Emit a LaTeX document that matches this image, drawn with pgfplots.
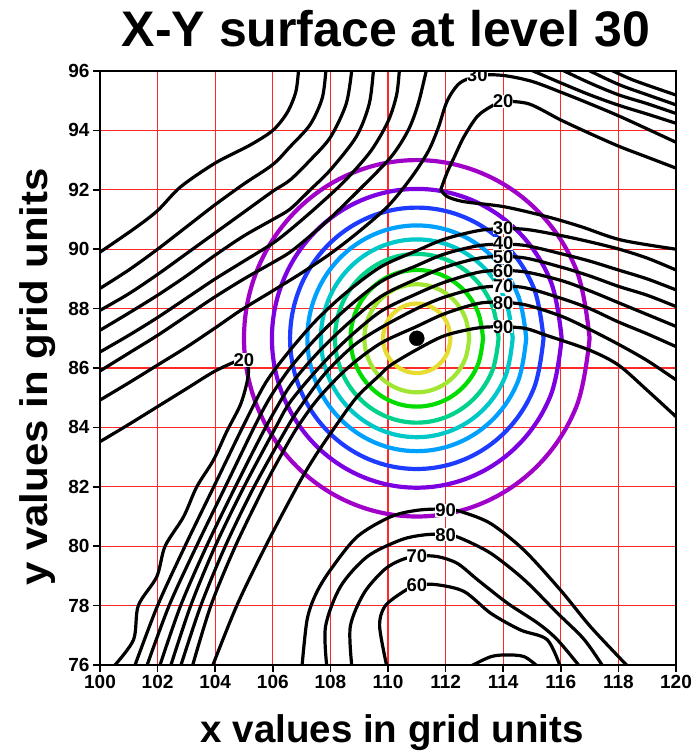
\documentclass[border=0pt]{standalone}
\usepackage{fontspec}
\setmainfont{Liberation Sans}
\usepackage{graphicx}
\usepackage{pgfplots}
\pgfplotsset{compat=1.18}
\definecolor{r1}{RGB}{160,0,200}
\definecolor{r2}{RGB}{125,0,225}
\definecolor{r3}{RGB}{30,60,255}
\definecolor{r4}{RGB}{0,160,255}
\definecolor{r5}{RGB}{0,200,200}
\definecolor{r6}{RGB}{0,210,140}
\definecolor{r7}{RGB}{0,220,0}
\definecolor{r8}{RGB}{160,230,50}
\definecolor{r9}{RGB}{230,220,50}
\definecolor{gridred}{RGB}{255,40,40}
\tikzset{lab/.style={fill=white, inner sep=0pt, font=\fontsize{18.5}{18.5}\selectfont\bfseries}}
\begin{document}
\begin{tikzpicture}
\useasboundingbox (0,0) rectangle (695pt,756pt);
\begin{axis}[
  at={(100pt,91pt)}, anchor=south west,
  scale only axis, width=576pt, height=594pt,
  xmin=100, xmax=120, ymin=76, ymax=96,
  xtick={100,102,...,120}, ytick={76,78,...,96},
  xmajorgrids, ymajorgrids,
  grid style={color=gridred, line width=1.25pt},
  major grid style={color=gridred, line width=1.25pt},
  axis line style={line width=1.8pt},
  tick style={black, line width=1.5pt},
  tick align=outside, major tick length=7pt,
  tick pos=left,
  ticklabel style={font=\fontsize{19}{19}\selectfont\bfseries},
  /pgf/number format/assume math mode=true,
  cl/.style={black, line width=3.2pt, smooth},
  rg/.style={line width=4.2pt, smooth, tension=0.62},
]
% coloured rings
\addplot[rg, r1] coordinates {(117,87) (116.543,89.296) (115.243,91.243) (113.296,92.543) (111,93) (108.704,92.543) (106.757,91.243) (105.457,89.296) (105,87) (105.457,84.704) (106.757,82.757) (108.704,81.457) (111,81) (113.296,81.457) (115.243,82.757) (116.543,84.704) (117,87)};
\addplot[rg, r2] coordinates {(116.03,87) (115.647,88.925) (114.557,90.557) (112.925,91.647) (111,92.03) (109.075,91.647) (107.443,90.557) (106.353,88.925) (105.97,87) (106.353,85.075) (107.443,83.443) (109.075,82.353) (111,81.97) (112.925,82.353) (114.557,83.443) (115.647,85.075) (116.03,87)};
\addplot[rg, r3] coordinates {(115.4,87) (115.065,88.684) (114.111,90.111) (112.684,91.065) (111,91.4) (109.316,91.065) (107.889,90.111) (106.935,88.684) (106.6,87) (106.935,85.316) (107.889,83.889) (109.316,82.935) (111,82.6) (112.684,82.935) (114.111,83.889) (115.065,85.316) (115.4,87)};
\addplot[rg, r4] coordinates {(114.8,87) (114.511,88.454) (113.687,89.687) (112.454,90.511) (111,90.8) (109.546,90.511) (108.313,89.687) (107.489,88.454) (107.2,87) (107.489,85.546) (108.313,84.313) (109.546,83.489) (111,83.2) (112.454,83.489) (113.687,84.313) (114.511,85.546) (114.8,87)};
\addplot[rg, r5] coordinates {(114.33,87) (114.077,88.274) (113.355,89.355) (112.274,90.077) (111,90.33) (109.726,90.077) (108.645,89.355) (107.923,88.274) (107.67,87) (107.923,85.726) (108.645,84.645) (109.726,83.923) (111,83.67) (112.274,83.923) (113.355,84.645) (114.077,85.726) (114.33,87)};
\addplot[rg, r6] coordinates {(113.84,87) (113.624,88.087) (113.008,89.008) (112.087,89.624) (111,89.84) (109.913,89.624) (108.992,89.008) (108.376,88.087) (108.16,87) (108.376,85.913) (108.992,84.992) (109.913,84.376) (111,84.16) (112.087,84.376) (113.008,84.992) (113.624,85.913) (113.84,87)};
\addplot[rg, r7] coordinates {(113.3,87) (113.125,87.88) (112.626,88.626) (111.88,89.125) (111,89.3) (110.12,89.125) (109.374,88.626) (108.875,87.88) (108.7,87) (108.875,86.12) (109.374,85.374) (110.12,84.875) (111,84.7) (111.88,84.875) (112.626,85.374) (113.125,86.12) (113.3,87)};
\addplot[rg, r8] coordinates {(112.82,87) (112.681,87.697) (112.287,88.287) (111.697,88.681) (111,88.82) (110.303,88.681) (109.713,88.287) (109.319,87.697) (109.18,87) (109.319,86.303) (109.713,85.713) (110.303,85.319) (111,85.18) (111.697,85.319) (112.287,85.713) (112.681,86.303) (112.82,87)};
\addplot[rg, r9] coordinates {(112.17,87) (112.081,87.448) (111.827,87.827) (111.448,88.081) (111,88.17) (110.552,88.081) (110.173,87.827) (109.919,87.448) (109.83,87) (109.919,86.552) (110.173,86.173) (110.552,85.919) (111,85.83) (111.448,85.919) (111.827,86.173) (112.081,86.552) (112.17,87)};
% black contours: upper-left family
\addplot[cl] coordinates {(100,89.9) (101.2,90.7) (102,91.3) (102.8,92.1) (104,92.9) (105.2,93.5) (106,94.0) (106.5,94.6) (106.8,95.3) (106.9,96.1)};
\addplot[cl] coordinates {(100,88.68) (101,89.3) (102,90.0) (103,90.75) (104,91.5) (105,92.2) (106,92.85) (106.6,93.45) (107.3,94.2) (107.72,95.1) (107.85,96.1)};
\addplot[cl] coordinates {(100,87.94) (101,88.5) (102,89.15) (103,89.85) (104,90.55) (105,91.25) (106,91.95) (106.6,92.33) (107.3,93.0) (108.0,93.77) (108.55,94.9) (108.75,96.1)};
\addplot[cl] coordinates {(100,87.27) (101,87.85) (102,88.45) (103,89.1) (104,89.8) (105,90.45) (106,91.0) (106.6,91.35) (107.3,92.0) (108.0,92.67) (108.9,93.79) (109.35,94.9) (109.5,96.1)};
\addplot[cl] coordinates {(100,86.54) (101,87.1) (102,87.7) (103,88.35) (104,89.0) (105,89.6) (106,90.2) (106.6,90.65) (107.5,91.4) (108.5,92.3) (109.4,93.3) (110.0,94.3) (110.3,95.2) (110.4,96.1)};
\addplot[cl] coordinates {(100,85.9) (101,86.5) (102,87.1) (103,87.75) (104,88.4) (105,89.0) (106,89.55) (106.6,89.9) (107.3,90.45) (108,91.05) (109,92.0) (110.1,93.1) (110.7,94.0) (111.05,94.9) (111.35,96.1)};
\addplot[cl] coordinates {(100,84.92) (101,85.5) (102,86.1) (103,86.7) (104,87.35) (104.9,87.95) (106,88.6) (107,89.2) (108,89.85) (109,90.6) (110,91.45) (110.8,92.4) (111.4,93.3) (111.75,94.1) (112.06,95.0) (112.5,95.6) (113.2,95.85) (114,95.85) (115,95.65) (116.1,95.25) (117,94.9) (118.1,94.45) (120,93.6)};
% upper-right family
\addplot[cl] coordinates {(114.8,96.1) (116,95.6) (117,95.2) (118,94.85) (119,94.55) (120,94.24)};
\addplot[cl] coordinates {(115.9,96.1) (117,95.6) (118,95.2) (119,94.9) (120,94.57)};
\addplot[cl] coordinates {(116.8,96.1) (118,95.55) (119,95.2) (120,94.86)};
\addplot[cl] coordinates {(117.6,96.1) (118.5,95.7) (120,95.19)};
% 20 tongue (top right)
\addplot[cl] coordinates {(120,92.73) (119,93.1) (118.03,93.46) (117,93.9) (116.0,94.35) (114.9,94.89) (114.0,94.97) (113.57,94.8) (113.1,94.47) (112.64,93.79) (112.3,93.1) (112.06,92.6) (111.83,92.0)};
\addplot[cl] coordinates {(111.83,92.0) (112.06,91.77) (112.64,91.6) (114.03,91.43) (115.54,91.09) (116.7,90.76) (118.09,90.31) (120,90.0)};
% 20 line lower left
\addplot[cl] coordinates {(100,83.52) (101,84.1) (102,84.7) (103,85.3) (104,85.9) (104.9,86.3)};
\addplot[cl] coordinates {(104.9,86.3) (105.15,86.0) (105.1,85.5) (104.87,84.75) (104.4,83.86) (103.94,82.9) (103.36,82.0) (102.9,80.99) (102.26,80.0) (101.97,78.97) (101.33,78.0) (101.16,76.84) (100.43,75.9)};
% diagonal family 30..90
\addplot[cl] coordinates {(101.18,75.9) (102.0,78) (102.95,80) (103.95,82) (104.95,84) (105.75,85.5) (106.6,86.6) (107.5,87.6) (108.5,88.5) (109.74,89.4) (111,89.95) (112,90.35) (113.3,90.65) (114.65,90.68) (116.0,90.46) (117,90.25) (118.03,90.0) (119,89.7) (120,89.3)};
\addplot[cl] coordinates {(101.6,75.9) (102.4,78) (103.35,80) (104.35,82) (105.35,84) (105.9,85) (106.6,86.0) (107.5,87.0) (108.5,87.95) (109.74,88.9) (111,89.45) (112,89.85) (113.3,90.14) (114.65,90.14) (116,89.85) (117,89.6) (118,89.3) (119,89.0) (120,88.63)};
\addplot[cl] coordinates {(102.05,75.9) (102.8,78) (103.7,80) (104.7,82) (105.75,84) (106.6,85.4) (107.5,86.45) (108.5,87.4) (109.74,88.4) (111,89.0) (112,89.4) (113.3,89.72) (114.65,89.72) (116,89.4) (117,89.1) (118,88.75) (119,88.45) (120,88.07)};
\addplot[cl] coordinates {(102.43,75.9) (103.15,78) (104.0,80) (105.0,82) (106.1,84) (106.6,84.85) (107.5,85.9) (108.5,86.9) (109.74,87.9) (111,88.5) (112,88.9) (113.3,89.25) (114.65,89.25) (116,88.95) (117,88.6) (118,88.2) (119,87.8) (120,87.4)};
\addplot[cl] coordinates {(102.78,75.9) (103.5,78) (104.35,80) (105.35,82) (106.5,84) (107.0,84.75) (107.8,85.8) (108.8,86.75) (109.74,87.35) (111,88.0) (112,88.4) (113.3,88.72) (114.65,88.72) (116,88.35) (117,88.0) (118,87.55) (119,87.15) (120,86.72)};
\addplot[cl] coordinates {(103.19,75.9) (103.85,78) (104.7,80) (105.7,82) (106.25,83) (106.85,84) (107.6,85.0) (108.6,86.0) (109.74,86.83) (111,87.4) (112,87.84) (113.3,88.2) (114.65,88.15) (116,87.75) (117,87.3) (118,86.8) (119,86.25) (120,85.6)};
\addplot[cl] coordinates {(103.88,75.9) (104.75,78) (105.75,80) (106.84,82) (107.45,83) (108.15,84) (108.9,85) (109.7,85.75) (110.1,86.1) (111.0,86.62) (112.0,87.1) (113.3,87.37) (114.65,87.35) (115.5,87.1) (117,86.6) (118,86.1) (119,85.25) (120,84.36)};
% bottom arcs
\addplot[cl] coordinates {(107.01,75.9) (107.19,77.52) (107.5,78.4) (108.0,79.2) (108.93,80.32) (110.09,80.99) (111.02,81.21) (112.0,81.25) (112.58,81.15) (113.57,80.76) (114.73,79.86) (116.0,78.51) (117.04,77.28) (118.38,75.9)};
\addplot[cl] coordinates {(107.88,75.9) (107.83,77.29) (108.35,78.64) (109.28,79.65) (110.44,80.21) (111.25,80.38) (112.0,80.4) (112.52,80.27) (113.57,79.76) (114.73,78.87) (115.88,77.75) (116.81,76.86) (117.5,75.9)};
\addplot[cl] coordinates {(108.75,75.9) (108.69,77.29) (109.16,78.41) (109.86,79.2) (110.44,79.53) (111.02,79.67) (111.72,79.65) (112.41,79.42) (113.11,78.87) (114.15,78.08) (115.2,77.41) (115.88,76.85) (116.7,75.9)};
\addplot[cl] coordinates {(109.97,75.9) (109.71,77.29) (109.88,77.96) (110.44,78.41) (111.0,78.69) (111.72,78.7) (112.65,78.47) (113.57,77.74) (114.6,77.18) (115.53,76.85) (116.0,75.9)};
\addplot[cl] coordinates {(112.85,75.95) (113.57,76.28) (114.15,76.34) (114.73,76.28) (115.2,75.95)};
% centre dot
\addplot[black, only marks, mark=*, mark size=7.5pt] coordinates {(111,87)};
% contour labels
\node[lab] at (axis cs:105.0,86.27) {20};
\node[lab] at (axis cs:114.0,94.97) {20};
\node[lab] at (axis cs:113.1,95.85) {30};
\node[lab] at (axis cs:114.0,90.72) {30};
\node[lab] at (axis cs:114.0,90.19) {40};
\node[lab] at (axis cs:114.0,89.72) {50};
\node[lab] at (axis cs:114.0,89.26) {60};
\node[lab] at (axis cs:114.0,88.74) {70};
\node[lab] at (axis cs:114.0,88.20) {80};
\node[lab] at (axis cs:114.0,87.39) {90};
\node[lab] at (axis cs:112.0,81.21) {90};
\node[lab] at (axis cs:112.0,80.38) {80};
\node[lab] at (axis cs:111.0,79.65) {70};
\node[lab] at (axis cs:111.0,78.69) {60};
\end{axis}
\draw[line width=1.8pt] (100pt,91pt) rectangle (676pt,685pt);
\node[anchor=base, font=\fontsize{50}{50}\selectfont\bfseries] at (386pt,709pt) {X-Y surface at level 30};
\node[anchor=base, font=\fontsize{38.5}{38.5}\selectfont\bfseries] at (392pt,13pt) {x values in grid units};
\node[anchor=base, rotate=90, font=\fontsize{38.5}{38.5}\selectfont\bfseries] at (47pt,379pt) {\scalebox{1.09}[1]{y values in grid units}};
\end{tikzpicture}
\end{document}
